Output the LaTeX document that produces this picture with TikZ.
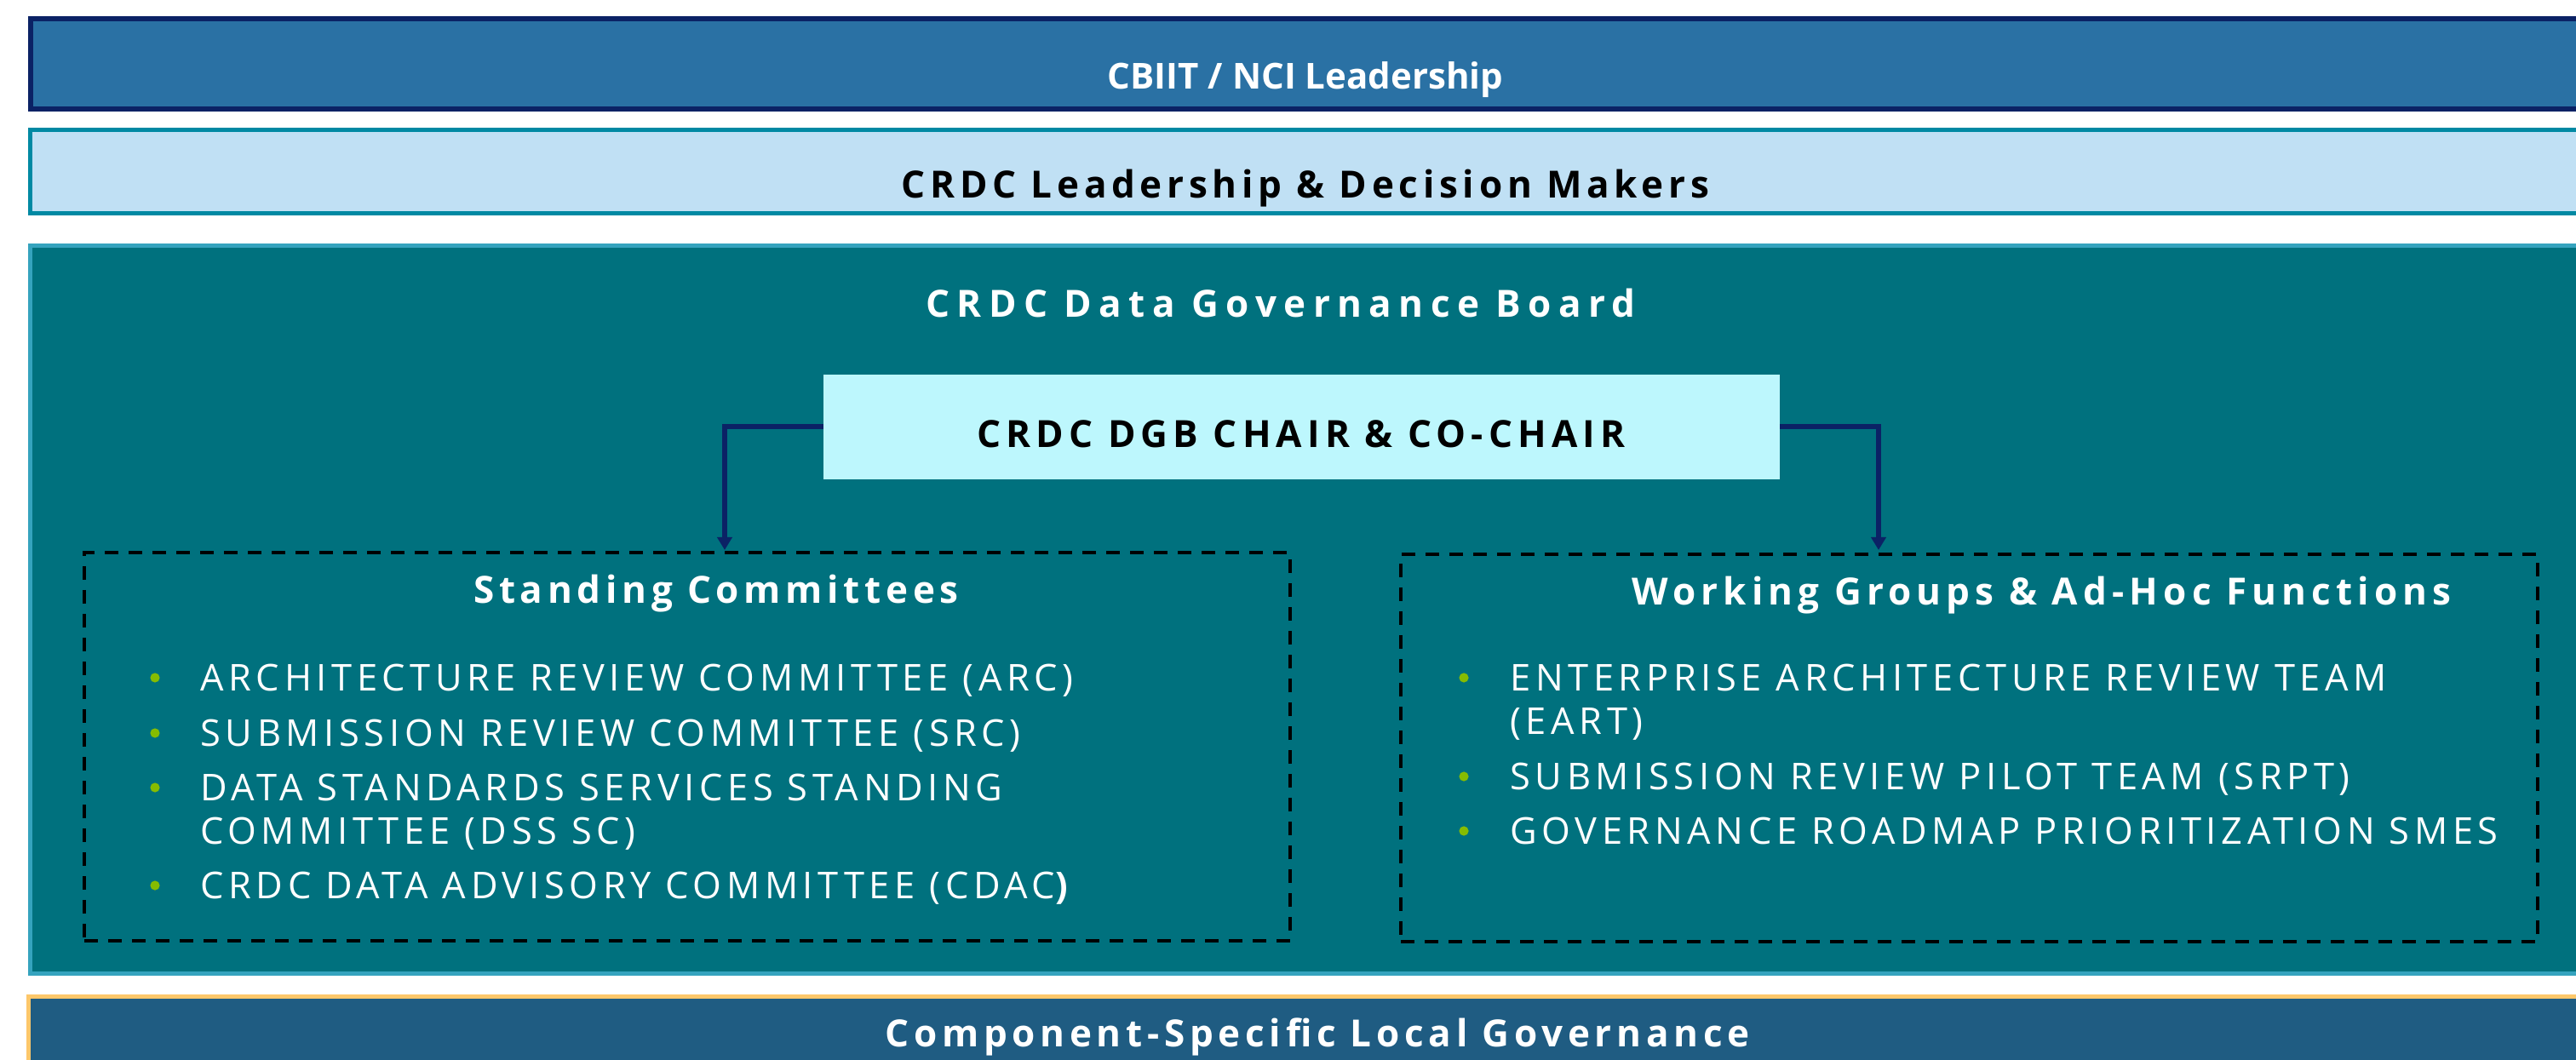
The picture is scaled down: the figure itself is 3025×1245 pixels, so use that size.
\documentclass[tikz,border=0pt]{standalone}
\usepackage{fontspec}
\setmainfont{Open Sans}
\usetikzlibrary{arrows.meta}

\definecolor{navy}{HTML}{0B2265}
\definecolor{topfill}{HTML}{2A71A4}
\definecolor{leadfill}{HTML}{C0E0F4}
\definecolor{leadline}{HTML}{0089A3}
\definecolor{dgbfill}{HTML}{00717E}
\definecolor{dgbline}{HTML}{35A3BE}
\definecolor{chairfill}{HTML}{BDF7FD}
\definecolor{bulletgreen}{HTML}{86BC00}
\definecolor{compfill}{HTML}{1F5C82}
\definecolor{compline}{HTML}{FDC76A}

\tikzset{
  title/.style={anchor=base, inner sep=0pt,
    font=\fontsize{22pt}{26pt}\selectfont\bfseries\addfontfeatures{LetterSpace=13}},
  widetitle/.style={title,
    font=\fontsize{22pt}{26pt}\selectfont\bfseries\addfontfeatures{LetterSpace=19}},
  item/.style={anchor=base west, inner sep=0pt, text=white,
    font=\fontsize{21.7pt}{25pt}\selectfont\addfontfeatures{LetterSpace=13}},
  dot/.style={circle, fill=bulletgreen, inner sep=0pt, minimum size=5.6pt},
  groupbox/.style={draw=black, line width=2.3pt, dash pattern=on 8pt off 6pt,
    inner sep=0pt},
  conn/.style={draw=navy, line width=3pt,
    -{Triangle[width=8.5pt,length=7.5pt]}},
}

\begin{document}
\begin{tikzpicture}[x=0.5pt, y=-0.5pt]
\clip (0,0) rectangle (3025,1245);
\fill[white] (0,0) rectangle (3025,1245);

% governance tiers
\draw[navy, line width=3.2pt, fill=topfill] (36,22) rectangle (3060,128);
\draw[leadline, line width=2.6pt, fill=leadfill] (35.5,152.5) rectangle (3060,250.5);
\draw[dgbline, line width=2.6pt, fill=dgbfill] (35.5,288.5) rectangle (3060,1143.5);
\draw[compline, line width=2.6pt, fill=compfill] (33.5,1170.5) rectangle (3060,1290);

\node[anchor=base, inner sep=0pt, text=white,
  font=\fontsize{21pt}{25pt}\selectfont\bfseries] (cbiit) at (1533,105)
  {CBIIT / NCI Leadership};
\node[title, text=black] (lead) at (1533,233) {CRDC Leadership \& Decision Makers};
\node[widetitle, text=white] (dgb) at (1504,373) {CRDC Data Governance Board};

% chair box
\node[fill=chairfill, inner sep=0pt, minimum width=561.5pt, minimum height=61.5pt]
  (chair) at (1528.5,501.5) {};
\node[title, text=black, font=\fontsize{22pt}{26pt}\selectfont\bfseries\addfontfeatures{LetterSpace=14}]
  (chairtxt) at (1528,526) {CRDC DGB CHAIR \& CO-CHAIR};

% standing committees and working groups
\node[groupbox, minimum width=708pt, minimum height=228pt] (stdbox) at (807,877) {};
\node[groupbox, minimum width=667.5pt, minimum height=227.5pt] (wgbox) at (2312.5,878.5) {};

\coordinate (ltip) at (851,646);
\coordinate (rtip) at (2206,646);
\draw[conn] (chair.west) -| (ltip);
\draw[conn] (chair.east) -| (rtip);

\node[title, text=white] (stdtitle) at (841,708) {Standing Committees};
\node[title, text=white, font=\fontsize{22pt}{26pt}\selectfont\bfseries\addfontfeatures{LetterSpace=14}]
  (wgtitle) at (2397.5,711) {Working Groups \& Ad-Hoc Functions};

% standing committee list
\node[dot] (d1) at (182,796) {};
\node[item] (arc) at (235,811) {ARCHITECTURE REVIEW COMMITTEE (ARC)};
\node[dot] (d2) at (182,861) {};
\node[item] (src) at (235,876) {SUBMISSION REVIEW COMMITTEE (SRC)};
\node[dot] (d3) at (182,925) {};
\node[item] (dssa) at (235,940) {DATA STANDARDS SERVICES STANDING};
\node[item] (dssb) at (235,991) {COMMITTEE (DSS SC)};
\node[dot] (d4) at (182,1040) {};
\node[item] (cdac) at (235,1055) {CRDC DATA ADVISORY COMMITTEE (CDAC{\bfseries)}};

% working group list
\node[dot] (e1) at (1719,796) {};
\node[item] (earta) at (1773,811) {ENTERPRISE ARCHITECTURE REVIEW TEAM};
\node[item] (eartb) at (1773,862) {(EART)};
\node[dot] (e2) at (1719,912) {};
\node[item] (srpt) at (1773,927) {SUBMISSION REVIEW PILOT TEAM (SRPT)};
\node[dot] (e3) at (1719,976) {};
\node[item] (grp) at (1773,991) {GOVERNANCE ROADMAP PRIORITIZATION SMES};

\node[title, text=white] (comp) at (1547,1229) {Component-Specific Local Governance};
\end{tikzpicture}
\end{document}
